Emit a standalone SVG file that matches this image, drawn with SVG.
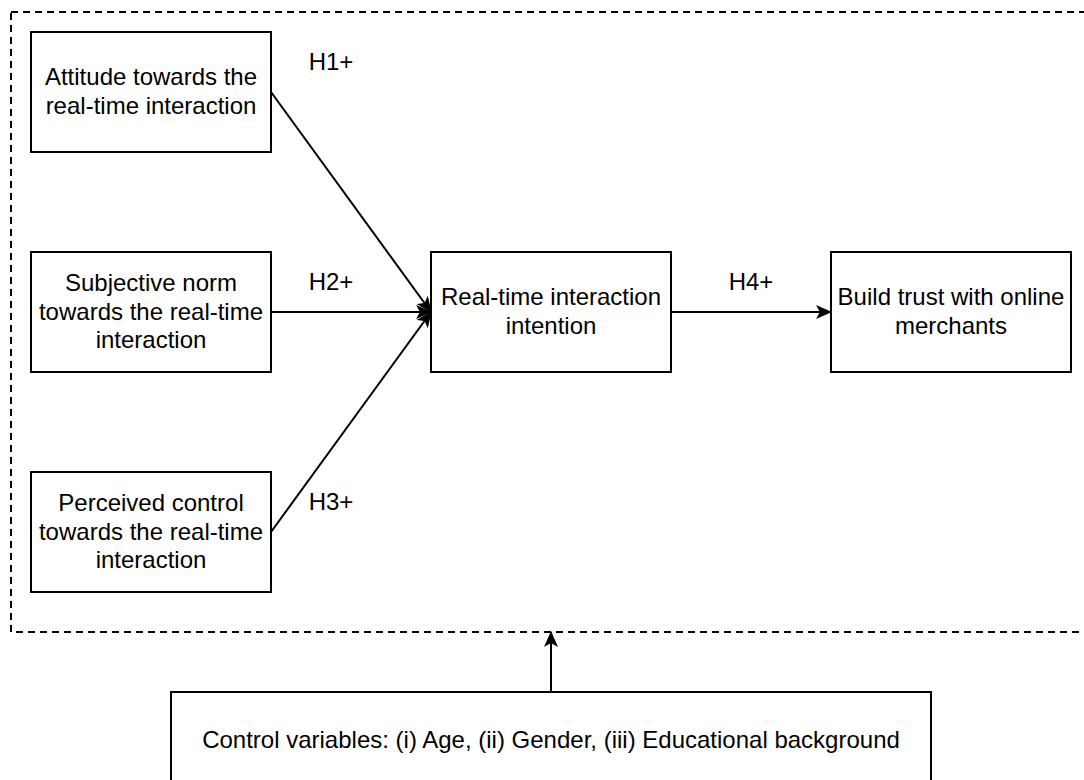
<svg xmlns="http://www.w3.org/2000/svg" width="1084" height="780" viewBox="0 0 1084 780">
<style>
.box{fill:#fff;stroke:#000;stroke-width:2}
.t{font-family:"Liberation Sans",Arial,sans-serif;font-size:24px;fill:#000;text-anchor:middle;dominant-baseline:central}
.lbl{font-family:"Liberation Sans",Arial,sans-serif;font-size:24px;fill:#000;text-anchor:middle;dominant-baseline:central}
.c{stroke:#000;stroke-width:2;fill:none;marker-end:url(#ah)}
</style>
<defs>
<marker id="ah" markerWidth="16" markerHeight="14" refX="15" refY="7" orient="auto" markerUnits="userSpaceOnUse" viewBox="0 0 16 14">
<path d="M0,0 L16,7 L0,14 L4,7 Z" fill="#000"/>
</marker>
</defs>
<rect id="frame" x="11" y="12" width="1082" height="620" fill="none" stroke="#000" stroke-width="2" stroke-dasharray="7 5"/>
<g id="connectors">
<line class="c" x1="271" y1="92" x2="431" y2="312"/>
<line class="c" x1="271" y1="312" x2="431" y2="312"/>
<line class="c" x1="271" y1="532" x2="431" y2="312"/>
<line class="c" x1="671" y1="312" x2="831" y2="312"/>
<line class="c" x1="551" y1="692" x2="551" y2="632"/>
</g>
<g id="attitude">
<rect class="box" x="31" y="32" width="240" height="120"/>
<text class="t" x="151" y="76.6">Attitude towards the</text>
<text class="t" x="151" y="105.4">real-time interaction</text>
</g>
<g id="subjective">
<rect class="box" x="31" y="252" width="240" height="120"/>
<text class="t" x="151" y="282.2">Subjective norm</text>
<text class="t" x="151" y="311">towards the real-time</text>
<text class="t" x="151" y="339.8">interaction</text>
</g>
<g id="perceived">
<rect class="box" x="31" y="472" width="240" height="120"/>
<text class="t" x="151" y="502.2">Perceived control</text>
<text class="t" x="151" y="531">towards the real-time</text>
<text class="t" x="151" y="559.8">interaction</text>
</g>
<g id="intention">
<rect class="box" x="431" y="252" width="240" height="120"/>
<text class="t" x="551" y="296.6">Real-time interaction</text>
<text class="t" x="551" y="325.4">intention</text>
</g>
<g id="trust">
<rect class="box" x="831" y="252" width="240" height="120"/>
<text class="t" x="951" y="296.6">Build trust with online</text>
<text class="t" x="951" y="325.4">merchants</text>
</g>
<g id="control">
<rect class="box" x="171" y="692" width="760" height="96"/>
<text class="t" x="551" y="739">Control variables: (i) Age, (ii) Gender, (iii) Educational background</text>
</g>
<g id="labels">
<text class="lbl" x="331" y="61">H1+</text>
<text class="lbl" x="331" y="281">H2+</text>
<text class="lbl" x="331" y="501">H3+</text>
<text class="lbl" x="751" y="281">H4+</text>
</g>
</svg>
